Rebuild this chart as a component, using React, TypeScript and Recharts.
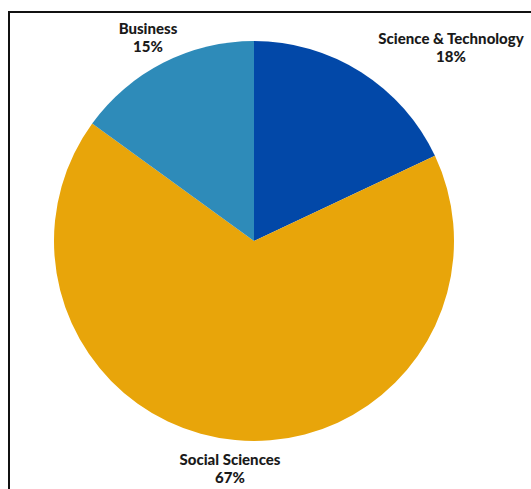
import React from "react";
import { PieChart, Pie, Cell } from "recharts";

const categories = ["Science & Technology", "Social Sciences", "Business"];
const shares = [18, 67, 15];
const colors = ["#0248a8", "#e8a50a", "#2e8bb9"];

const data = categories.map((name, i) => ({ name, value: shares[i] }));

const labelOffsets: Record<string, [number, number]> = {
  "Science & Technology": [197, -203],
  "Social Sciences": [-24, 218],
  Business: [-106, -213],
};

const renderLabel = (props: any) => {
  const { cx, cy, name, percent } = props;
  const off = labelOffsets[name] || [0, 0];
  const x = cx + off[0];
  const y = cy + off[1];
  return (
    <text
      x={x}
      y={y}
      textAnchor="middle"
      dominantBaseline="central"
      fill="#1a1a1a"
      fontFamily="Lato, 'Open Sans', sans-serif"
      fontWeight={900}
      fontSize={15}
    >
      <tspan x={x} y={y}>{name}</tspan>
      <tspan x={x} y={y + 17.5}>{`${Math.round(percent * 100)}%`}</tspan>
    </text>
  );
};

export default function App() {
  return (
    <div style={{ position: "absolute", left: 0, top: 0, width: 531, height: 489, background: "#fff", overflow: "hidden" }}>
      <div
        style={{
          position: "absolute",
          left: 8,
          top: 11,
          width: 540,
          height: 500,
          borderLeft: "2px solid #111",
          borderTop: "2px solid #111",
        }}
      />
      <div style={{ position: "absolute", left: 0, top: 0 }}>
        <PieChart width={531} height={489} margin={{ top: 0, right: 0, bottom: 0, left: 0 }}>
          <Pie
            data={data}
            dataKey="value"
            nameKey="name"
            cx={254}
            cy={241}
            outerRadius={200}
            startAngle={90}
            endAngle={-270}
            stroke="none"
            label={renderLabel}
            labelLine={false}
            isAnimationActive={false}
          >
            {data.map((d, i) => (
              <Cell key={d.name} fill={colors[i]} />
            ))}
          </Pie>
        </PieChart>
      </div>
    </div>
  );
}
